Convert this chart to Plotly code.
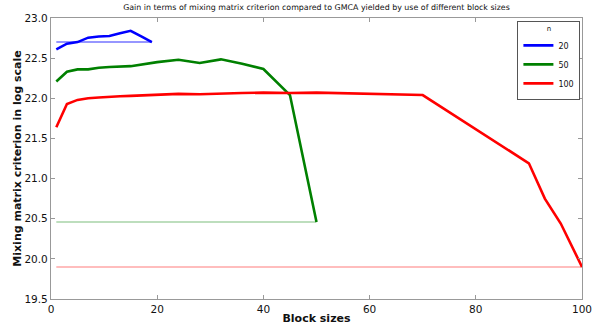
import plotly.graph_objects as go

# n = 20
x20 = [1, 3, 5, 7, 9, 11, 13, 15, 17, 19]
y20 = [22.61, 22.68, 22.70, 22.755, 22.77, 22.775, 22.81, 22.84, 22.77, 22.70]
ref20 = 22.70

# n = 50
x50 = [1, 3, 5, 7, 9, 11, 15, 20, 24, 28, 32, 36, 40, 45, 50]
y50 = [22.21, 22.33, 22.36, 22.36, 22.38, 22.39, 22.40, 22.45, 22.48, 22.44, 22.485, 22.43, 22.365, 22.04, 20.46]
ref50 = 20.46

# n = 100
x100 = [1, 3, 5, 7, 9, 11, 13, 15, 20, 24, 28, 32, 36, 40, 45, 50, 60, 70, 90, 93, 96, 100]
y100 = [21.64, 21.93, 21.98, 22.00, 22.01, 22.02, 22.025, 22.03, 22.045, 22.055, 22.05, 22.06,
        22.065, 22.07, 22.065, 22.07, 22.055, 22.04, 21.19, 20.75, 20.44, 19.90]
ref100 = 19.90

series = [
    ("20", x20, y20, ref20, "#0000ff", "rgba(0,0,255,0.55)"),
    ("50", x50, y50, ref50, "#008000", "rgba(0,128,0,0.35)"),
    ("100", x100, y100, ref100, "#ff0000", "rgba(255,0,0,0.35)"),
]

fig = go.Figure()
for name, xs, ys, ref, col, rcol in series:
    fig.add_trace(go.Scatter(x=[xs[0], xs[-1]], y=[ref, ref], mode="lines",
                             line=dict(color=rcol, width=1.5), showlegend=False,
                             hoverinfo="skip"))
for name, xs, ys, ref, col, rcol in series:
    fig.add_trace(go.Scatter(x=xs, y=ys, mode="lines", name=name,
                             line=dict(color=col, width=2.6)))

axis_common = dict(showgrid=False, zeroline=False, showline=True, linecolor="#999999",
                   linewidth=1.2, mirror="ticks", ticks="inside", ticklen=4,
                   tickcolor="#999999", automargin=False, ticklabeloverflow="allow",
                   tickfont=dict(family="DejaVu Sans", size=10.5, color="#111"))

fig.update_layout(
    width=592, height=325,
    margin=dict(l=51, r=10, t=18, b=26),
    paper_bgcolor="white", plot_bgcolor="white",
    font=dict(family="DejaVu Sans", color="#111"),
    title=dict(text="Gain in terms of mixing matrix criterion compared to GMCA yielded by use of different block sizes",
               font=dict(size=7.9, family="DejaVu Sans", color="#111"),
               x=0.5, xanchor="center", xref="paper", y=0.985, yanchor="top"),
    xaxis=dict(range=[0, 100], dtick=20, tick0=0,
               title=dict(text="<b>Block sizes</b>", font=dict(size=11), standoff=5),
               **axis_common),
    yaxis=dict(range=[19.5, 23.0], dtick=0.5, tick0=19.5, tickformat=".1f",
               title=dict(text="<b>Mixing matrix criterion in log scale</b>", font=dict(size=11), standoff=0),
               **axis_common),
    legend=dict(x=0.997, y=0.99, xanchor="right", yanchor="top",
                bordercolor="#555", borderwidth=1, bgcolor="white",
                title=dict(text="n", side="top center", font=dict(size=7)),
                font=dict(size=8), tracegroupgap=0, itemwidth=30),
)

fig.write_html("out.html", config={"displayModeBar": False},
               post_script="document.body.style.margin='0';document.body.style.overflow='hidden';")
